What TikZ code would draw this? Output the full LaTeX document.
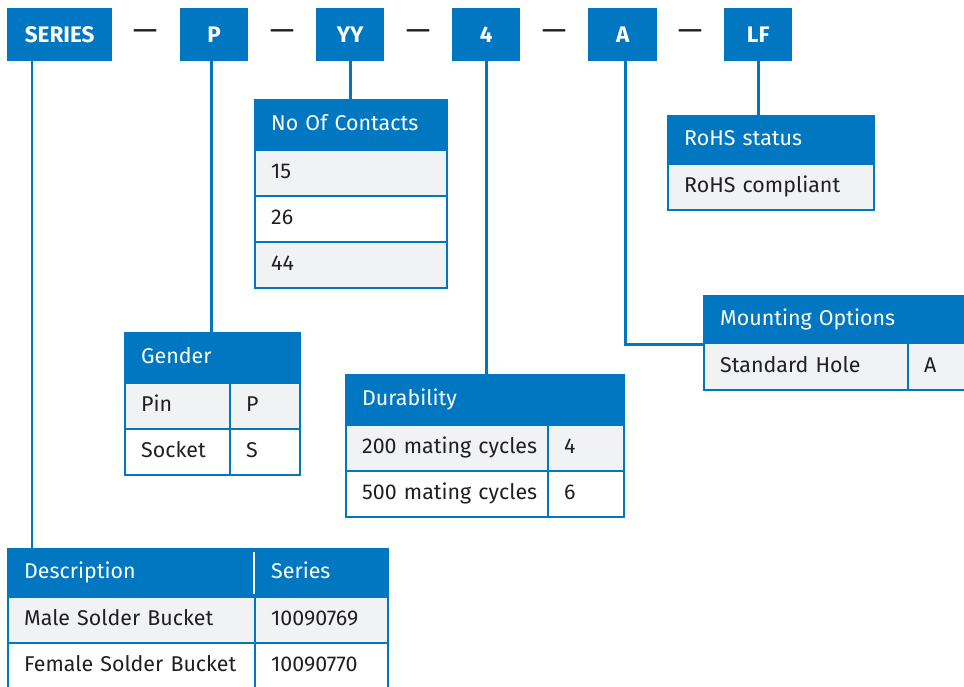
\documentclass[tikz,border=0pt]{standalone}
\usepackage{fontspec}
\setmainfont{Fira Sans}
\usetikzlibrary{positioning}
\definecolor{pnblue}{HTML}{0077C0}
\definecolor{pngray}{HTML}{F1F2F4}
\definecolor{pntext}{HTML}{231F20}
\newcommand{\tabfont}{\fontsize{21.4}{25}\selectfont}

\begin{document}
\begin{tikzpicture}[x=1pt,y=-1pt,
    code/.style={fill=pnblue, text=white, font=\bfseries\fontsize{22.5}{26}\selectfont,
        minimum height=53pt, anchor=north west, inner sep=0pt},
    dashmark/.style={text=pntext, font=\fontsize{31}{34}\selectfont, inner sep=0pt},
    tcell/.style={draw=pnblue, line width=2.4pt, anchor=north west, inner xsep=16pt,
        inner ysep=0pt, minimum height=46pt, text=pntext, font=\tabfont, align=left,
        text height=15pt, text depth=4pt, text width=#1},
    thead/.style={tcell=#1, fill=pnblue, text=white, minimum height=50pt},
    tgray/.style={tcell=#1, fill=pngray},
    conn/.style={draw=pnblue, line width=2.8pt}]
    \useasboundingbox (0,0) rectangle (964,686);

    % Part number codes
    \foreach \name/\x/\w/\txt in {series/7/105/SERIES, p/180/68/P, yy/316/68/YY,
        four/452/68/4, a/588/69/A, lf/724/68/LF}
        \node[code, minimum width=\w pt] (\name) at (\x,8) {\txt};
    \foreach \i/\x in {1/145, 2/282, 3/418, 4/554, 5/690}
        \node[dashmark] (d\i) at (\x,35) {---};

    % No of contacts
    \node[thead=160pt] (hcont) at (254,99) {No Of Contacts};
    \node[tgray=160pt] (cont1) at (254,149) {15};
    \node[tcell=160pt] (cont2) at (254,195) {26};
    \node[tgray=160pt] (cont3) at (254,241) {44};

    % RoHS status
    \node[thead=174pt, minimum height=48pt] (hrohs) at (667,115) {RoHS status};
    \node[tgray=174pt] (rohs1) at (667,163) {RoHS compliant};

    % Mounting options
    \node[thead=240pt, minimum height=47pt] (hmount) at (703,295) {Mounting Options};
    \node[tgray=172pt, minimum height=47pt] (mount1) at (703,342) {Standard Hole};
    \node[tgray=36pt, minimum height=47pt] (mount2) at (907,342) {A};

    % Gender
    \node[thead=143pt] (hgen) at (124,332) {Gender};
    \node[tgray=73pt] (gen1) at (124,382) {Pin};
    \node[tgray=38pt] (gen2) at (229,382) {P};
    \node[tcell=73pt] (gen3) at (124,428) {Socket};
    \node[tcell=38pt] (gen4) at (229,428) {S};

    % Durability
    \node[thead=246pt] (hdur) at (345,374) {Durability};
    \node[tgray=170pt] (dur1) at (345,424) {\mbox{200 mating cycles}};
    \node[tgray=44pt] (dur2) at (547,424) {4};
    \node[tcell=170pt] (dur3) at (345,470) {\mbox{500 mating cycles}};
    \node[tcell=44pt] (dur4) at (547,470) {6};

    % Series
    \node[thead=215pt, minimum height=48pt] (hdesc) at (7,548) {Description};
    \node[thead=101pt, minimum height=48pt] (hser) at (254,548) {Series};
    \draw[white, line width=2.4pt] ([yshift=-4pt]hser.north west) -- ([yshift=4pt]hser.south west);
    \node[tgray=215pt] (desc1) at (7,596) {Male Solder Bucket};
    \node[tgray=101pt] (ser1) at (254,596) {10090769};
    \node[tcell=215pt] (desc2) at (7,642) {Female Solder Bucket};
    \node[tcell=101pt] (ser2) at (254,642) {10090770};

    % Connectors
    \draw[conn] ([xshift=25pt]series.south west) -- ([xshift=25pt]hdesc.north west);
    \draw[conn] ([xshift=-3pt]p.south) -- ([xshift=-3pt]p.south |- hgen.north);
    \draw[conn] (yy.south) -- (yy.south |- hcont.north);
    \draw[conn] (four.south) -- (four.south |- hdur.north);
    \draw[conn] ([xshift=3pt]a.south) |- (hmount.south west);
    \draw[conn] (lf.south) -- (lf.south |- hrohs.north);
\end{tikzpicture}
\end{document}
